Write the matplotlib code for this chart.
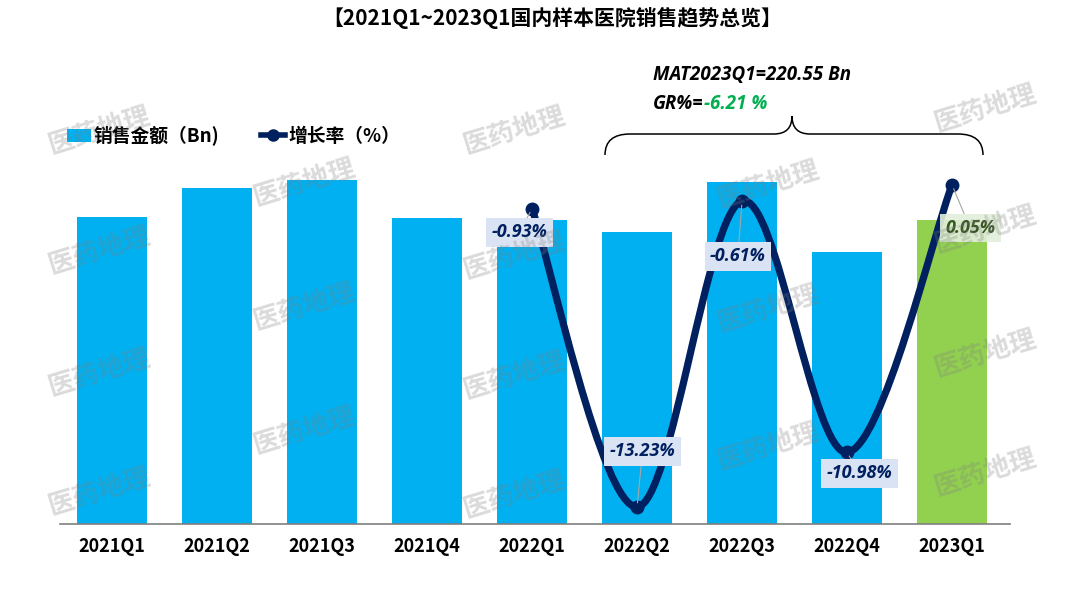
import numpy as np
import matplotlib
matplotlib.use("Agg")
import matplotlib.pyplot as plt
from matplotlib.path import Path
from matplotlib.patches import PathPatch, Patch
from matplotlib.lines import Line2D

plt.rcParams['font.family'] = ['Noto Sans CJK SC', 'DejaVu Sans']

#------------------------------- DATA -----------------------------------------
quarters = ["2021Q1", "2021Q2", "2021Q3", "2021Q4", "2022Q1",
            "2022Q2", "2022Q3", "2022Q4", "2023Q1"]
sales_bn = [55.9, 61.3, 62.7, 55.7, 55.4, 53.2, 62.3, 49.6, 55.4]
growth_quarters = ["2022Q1", "2022Q2", "2022Q3", "2022Q4", "2023Q1"]
growth_pct = [-0.93, -13.23, -0.61, -10.98, 0.05]
mat_value = 220.55
mat_gr = -6.21

title = "【2021Q1~2023Q1国内样本医院销售趋势总览】"
legend_labels = ["销售金额（Bn)", "增长率（%）"]
watermark = "医药地理"

#------------------------------- STYLE ----------------------------------------
W, H = 1080, 596
BLUE = "#00B0F0"
GREEN = "#92D050"
NAVY = "#002060"

# label offsets (points) from each growth point
label_offsets = [(-9, -17), (4, 40), (-3, -40), (9, -15), (13, -31)]

def px(x, y):
    # figure pixel (from top-left) -> figure fraction
    return x / W, 1 - y / H

fig = plt.figure(figsize=(W / 100, H / 100), dpi=100)
ax = fig.add_axes([60 / W, 1 - 523.5 / H, 950 / W, (523.5 - 60) / H])

x = np.arange(len(quarters))
colors = [BLUE] * (len(quarters) - 1) + [GREEN]
ax.bar(x, sales_bn, width=0.667, color=colors, zorder=2)
ax.set_xlim(-0.495, 8.552)
ax.set_ylim(0, 84.6)
for s in ["left", "right", "top"]:
    ax.spines[s].set_visible(False)
ax.spines["bottom"].set_color("#7F7F7F")
ax.spines["bottom"].set_linewidth(1.2)
ax.set_yticks([])
ax.set_xticks(x)
ax.set_xticklabels(quarters, fontsize=13, fontweight="bold")
ax.tick_params(axis="x", length=0, pad=10)

# --- growth line (smoothed, secondary axis) ---
ax2 = ax.twinx()
ax2.set_ylim(-13.91, 5.20)
ax2.set_axis_off()
gx = np.array([quarters.index(q) for q in growth_quarters], dtype=float)
gy = np.array(growth_pct)
pts = np.column_stack([gx, gy])
n = len(pts)
verts = [pts[0]]
codes = [Path.MOVETO]
for i in range(n - 1):
    p_prev = pts[max(i - 1, 0)]
    p0, p1 = pts[i], pts[i + 1]
    p_next = pts[min(i + 2, n - 1)]
    c1 = p0 + (p1 - p_prev) / 6
    c2 = p1 - (p_next - p0) / 6
    verts += [c1, c2, p1]
    codes += [Path.CURVE4] * 3
curve = PathPatch(Path(verts, codes), facecolor="none", edgecolor=NAVY,
                  lw=5.2, capstyle="round", joinstyle="round", zorder=4)
ax2.add_patch(curve)
ax2.plot(gx, gy, ls="none", marker="o", ms=9, color=NAVY, zorder=5)

for i, (xv, yv) in enumerate(zip(gx, gy)):
    last = i == n - 1
    ax2.annotate(f"{yv:.2f}%", xy=(xv, yv), xytext=label_offsets[i],
                 textcoords="offset points", ha="center", va="center",
                 fontsize=13, fontweight="bold", style="italic",
                 family=["Open Sans", "DejaVu Sans"],
                 color="#375623" if last else NAVY, zorder=6,
                 bbox=dict(boxstyle="square,pad=0.3",
                           fc="#E2EFDA" if last else "#DAE3F3",
                           ec="none", alpha=0.9 if last else 1.0),
                 arrowprops=dict(arrowstyle="-", color="#A6A6A6", lw=0.8,
                                 shrinkA=0, shrinkB=3))

# --- title ---
fig.text(*px(552, 18), title, ha="center", va="center",
         fontsize=15, fontweight="bold")

# --- legend ---
handles = [Patch(facecolor=BLUE, edgecolor="none"),
           Line2D([0], [0], color=NAVY, lw=4, marker="o", ms=8)]
fig.legend(handles, legend_labels, loc="center left",
           bbox_to_anchor=px(50, 136), ncol=2, frameon=False,
           handlelength=1.3, handleheight=0.7, handletextpad=0.15,
           columnspacing=2.2, prop=dict(size=13.5, weight="bold"))

# --- MAT annotation with brace ---
fig.text(*px(653, 75), f"MAT2023Q1={mat_value:.2f} Bn", ha="left",
         va="center", fontsize=13.5, fontweight="bold", style="italic",
         family=["Open Sans", "DejaVu Sans"])
t = fig.text(*px(653, 104), "GR%=", ha="left", va="center", fontsize=13.5,
             fontweight="bold", style="italic",
             family=["Open Sans", "DejaVu Sans"])
fig.canvas.draw()
bb = t.get_window_extent()
fig.text(bb.x1 / W, 1 - 104 / H, f"{mat_gr:.2f} %", ha="left", va="center",
         fontsize=13.5, fontweight="bold", style="italic", color="#00B050",
         family=["Open Sans", "DejaVu Sans"])

bx0, bx1, bmid = 605, 983, 792
by_end, by_mid, by_top = 155, 134, 116
brace_px = [(bx0, by_end), (bx0, by_mid), (bx0 + 25, by_mid),
            (bmid - 18, by_mid), (bmid, by_mid), (bmid, by_top),
            (bmid, by_mid), (bmid + 18, by_mid),
            (bx1 - 25, by_mid), (bx1, by_mid), (bx1, by_end)]
brace_codes = [Path.MOVETO, Path.CURVE3, Path.CURVE3,
               Path.LINETO, Path.CURVE3, Path.CURVE3,
               Path.CURVE3, Path.CURVE3,
               Path.LINETO, Path.CURVE3, Path.CURVE3]
brace = PathPatch(Path([px(a, b) for a, b in brace_px], brace_codes),
                  transform=fig.transFigure, fc="none", ec="black", lw=1.1)
fig.patches.append(brace)

# --- watermarks ---
wm_pos = [(100, 130), (100, 250), (100, 372), (100, 491),
          (305, 182), (305, 306), (305, 430),
          (515, 130), (515, 255), (515, 375), (515, 494),
          (769, 184), (769, 308), (769, 446),
          (986, 108), (986, 229), (986, 353), (986, 472)]
for wx, wy in wm_pos:
    fig.text(*px(wx, wy), watermark, ha="center", va="center", fontsize=19,
             fontweight="bold", rotation=17, color="#7F7F7F", alpha=0.28,
             zorder=10)

plt.savefig("out.png", dpi=100)
plt.close(fig)
